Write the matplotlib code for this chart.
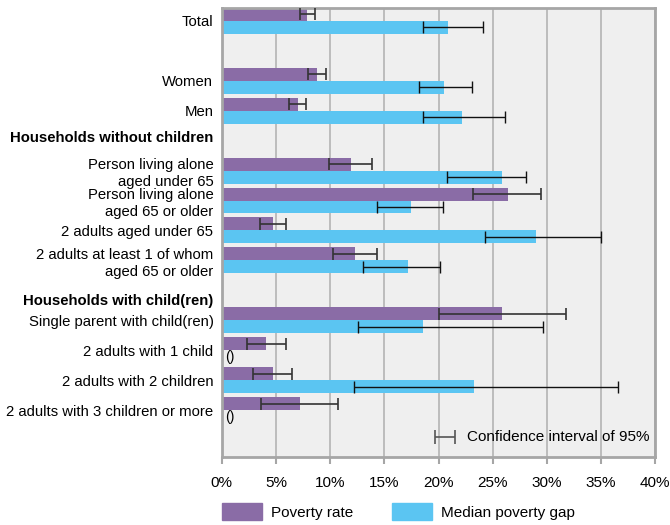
import matplotlib
matplotlib.use("Agg")
import matplotlib.pyplot as plt
from matplotlib.patches import Patch
import numpy as np

# data (percent)
categories = ["Total", "Women", "Men",
              "Person living alone\naged under 65",
              "Person living alone\naged 65 or older",
              "2 adults aged under 65",
              "2 adults at least 1 of whom\naged 65 or older",
              "Single parent with child(ren)",
              "2 adults with 1 child",
              "2 adults with 2 children",
              "2 adults with 3 children or more"]
rate = [7.9, 8.8, 7.0, 11.9, 26.4, 4.7, 12.3, 25.9, 4.1, 4.7, 7.2]
rate_lo = [7.2, 8.0, 6.2, 9.9, 23.2, 3.5, 10.3, 20.0, 2.3, 2.9, 3.6]
rate_hi = [8.6, 9.6, 7.8, 13.9, 29.5, 5.9, 14.3, 31.8, 5.9, 6.5, 10.7]
gap = [20.9, 20.5, 22.2, 25.9, 17.5, 29.0, 17.2, 18.6, np.nan, 23.3, np.nan]
gap_lo = [18.6, 18.2, 18.6, 20.8, 14.3, 24.3, 13.0, 12.6, np.nan, 12.2, np.nan]
gap_hi = [24.1, 23.1, 26.1, 28.1, 20.4, 35.0, 20.1, 29.6, np.nan, 36.6, np.nan]
headers = ["Households without children", "Households with child(ren)"]

# layout: row slot for each category, header positions
slots = np.array([0, 2, 3, 5, 6, 7, 8, 10, 11, 12, 13])
header_pos = [4.3, 9.73]
bh = 13 / 30

purple = "#8a6ca6"
blue = "#5bc5f2"

plt.rcParams['font.family'] = ['Liberation Sans', 'DejaVu Sans']
plt.rcParams['font.size'] = 10.7

fig = plt.figure(figsize=(6.7, 5.25), dpi=100)
ax = fig.add_axes([0.331, 0.1295, 0.647, 0.8555])
ax.set_facecolor("#efefef")

rate = np.array(rate)
gap = np.array(gap)
ax.barh(slots, rate, height=bh, align='edge', color=purple, zorder=2)
ax.barh(slots + bh, gap, height=bh, align='edge', color=blue, zorder=2)

ax.errorbar(rate, slots + bh / 2,
            xerr=[rate - np.array(rate_lo), np.array(rate_hi) - rate],
            fmt='none', ecolor='#333333', elinewidth=1.2, capsize=4, capthick=1.2, zorder=3)
ok = ~np.isnan(gap)
ax.errorbar(gap[ok], (slots + 1.5 * bh)[ok],
            xerr=[gap[ok] - np.array(gap_lo)[ok], np.array(gap_hi)[ok] - gap[ok]],
            fmt='none', ecolor='#111111', elinewidth=1.0, capsize=4, capthick=1.0, zorder=3)

# missing values
for s, g in zip(slots, gap):
    if np.isnan(g):
        ax.text(0.3, s + 1.5 * bh, "()", va='center', ha='left', fontsize=10)

# confidence interval key
ax.errorbar([20.6], [14.33], xerr=[[0.9], [0.9]], fmt='none', ecolor='#555555',
            elinewidth=1.2, capsize=5, capthick=1.2)
ax.text(22.6, 14.33, "Confidence interval of 95%", va='center', ha='left', fontsize=11)

ax.set_xlim(0, 40)
ax.set_ylim(15, 0)
ax.set_xticks(np.arange(0, 41, 5))
ax.set_xticklabels([f"{v}%" for v in range(0, 41, 5)], fontsize=11)
ax.xaxis.grid(True, color="#b3b3b3", lw=1.2, zorder=0)
ax.set_axisbelow(True)

yt = list(slots + bh) + header_pos
yl = categories + headers
ax.set_yticks(yt)
ax.set_yticklabels(yl, linespacing=1.25)
for lab in ax.get_yticklabels()[-2:]:
    lab.set_fontweight('bold')
ax.tick_params(axis='y', length=0, pad=6)
ax.tick_params(axis='x', length=5, width=1.5, color="#a6a6a6", pad=9)

for sp in ax.spines.values():
    sp.set_color("#a6a6a6")
    sp.set_linewidth(2)

handles = [Patch(color=purple, label="Poverty rate"),
           Patch(color=blue, label="Median poverty gap")]
fig.legend(handles=handles, loc='lower left', bbox_to_anchor=(0.311, -0.017), ncol=2,
           frameon=False, handlelength=2.6, handleheight=1.35, columnspacing=2.55,
           handletextpad=0.6, fontsize=11)

fig.savefig("out.png", dpi=100)
